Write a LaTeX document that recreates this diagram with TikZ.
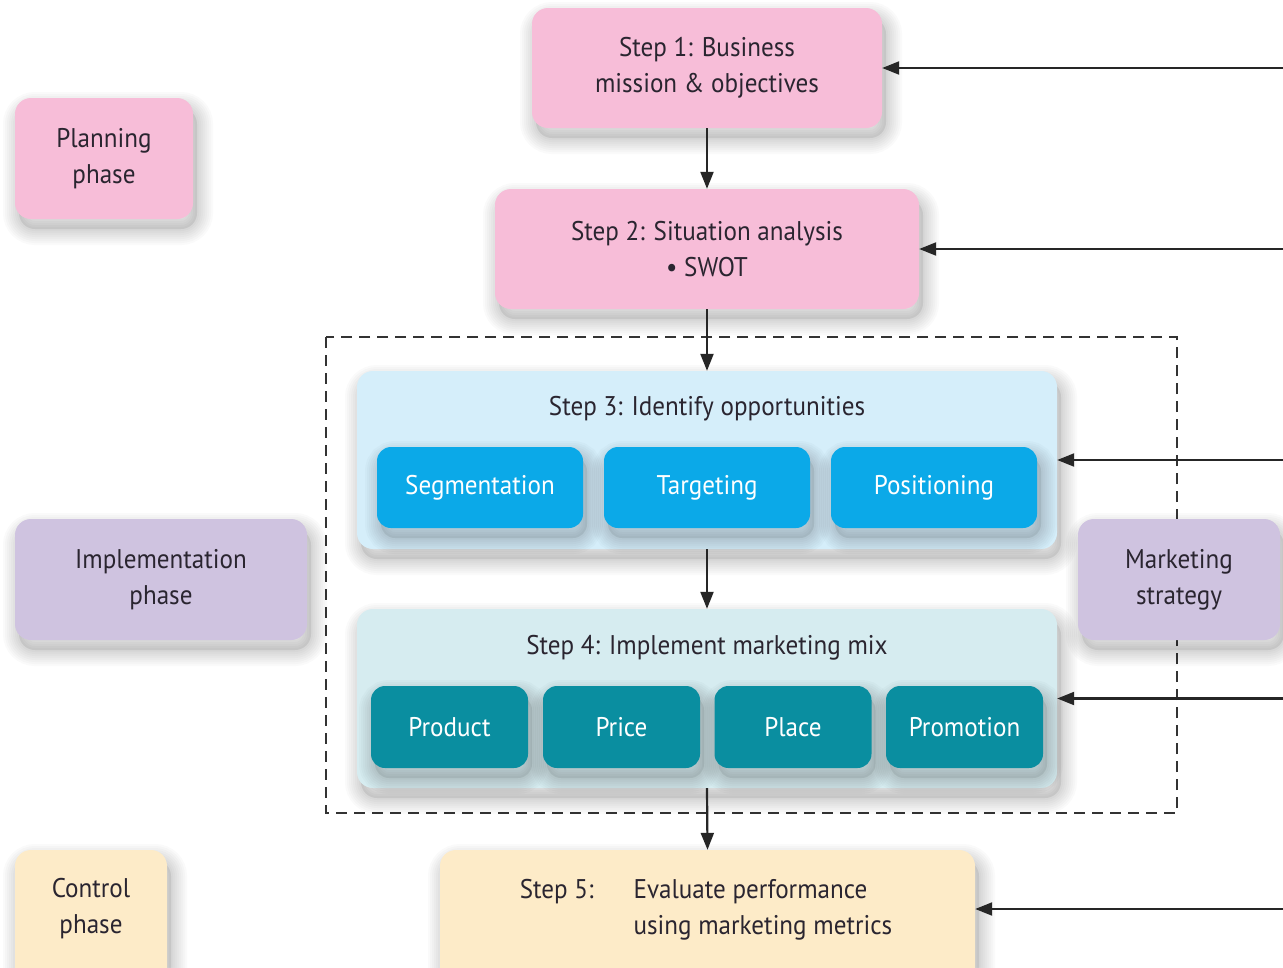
\documentclass[tikz,border=0pt]{standalone}
\usepackage{fontspec}
\setmainfont{PT Sans}[FakeStretch=0.93]
\usetikzlibrary{arrows.meta}
\definecolor{pinkc}{HTML}{F7BDD8}
\definecolor{lavc}{HTML}{CFC3E0}
\definecolor{creamc}{HTML}{FDEBC8}
\definecolor{lblue}{HTML}{D5EEFA}
\definecolor{bblue}{HTML}{0BA9E8}
\definecolor{lteal}{HTML}{D6ECF0}
\definecolor{dteal}{HTML}{0A8EA0}
\definecolor{txtc}{HTML}{2A2530}
\tikzset{
  sh/.style={preaction={draw=black, line width=#1, draw opacity=0.018, transform canvas={xshift=4pt,yshift=-10pt}}},
  shad/.style={sh=32pt, sh=28pt, sh=24pt, sh=20pt, sh=16pt, sh=12pt, sh=8pt, sh=4pt,
    preaction={fill=black, fill opacity=0.08, transform canvas={xshift=4pt,yshift=-10pt}}},
  box/.style={rounded corners=16pt, inner sep=0pt, align=center, text=txtc, shad,
    font=\fontsize{27}{36}\selectfont},
  inbox/.style={box, text=white, rounded corners=14pt},
  lbl/.style={inner sep=0pt, align=center, text=txtc, font=\fontsize{27}{36}\selectfont},
  arr/.style={line width=2.2pt, draw=black!85, -{Triangle[length=17pt,width=13pt]}},
  dashbox/.style={line width=2pt, draw=black!80, dash pattern=on 11pt off 7pt}
}
\begin{document}
\begin{tikzpicture}[x=1pt,y=-1pt]
\useasboundingbox (0,0) rectangle (1283,967);
\fill[white] (0,0) rectangle (1283,967);
\coordinate (redge) at (1283,0);
% dashed strategy frame
\draw[dashbox] (326,337) rectangle (1177,813);
% phases
\node[box, fill=pinkc, minimum width=178pt, minimum height=121pt] (plan) at (104,158.5) {Planning\\phase};
\node[box, fill=lavc, minimum width=292pt, minimum height=121pt] (impl) at (161,579.5) {Implementation\\phase};
\node[box, fill=lavc, minimum width=202pt, minimum height=121pt] (mkt) at (1179,579.5) {Marketing\\strategy};
\node[box, fill=creamc, minimum width=152pt, minimum height=150pt] (ctrl) at (91,925) {};
\node[lbl] (ctrlt) at (91,909) {Control\\phase};
% steps
\node[box, fill=pinkc, minimum width=350pt, minimum height=120pt] (s1) at (707,68) {Step 1: Business\\mission \& objectives};
\node[box, fill=pinkc, minimum width=424pt, minimum height=120pt] (s2) at (707,249) {Step 2: Situation analysis\\\textbullet\ SWOT};
\node[box, fill=lblue, minimum width=700pt, minimum height=178pt] (s3) at (707,460) {};
\node[lbl] (s3t) at (707,409) {Step 3: Identify opportunities};
\node[inbox, fill=bblue, minimum width=206pt, minimum height=81pt] (seg) at (480,487.5) {Segmentation};
\node[inbox, fill=bblue, minimum width=206pt, minimum height=81pt] (tar) at (707,487.5) {Targeting};
\node[inbox, fill=bblue, minimum width=206pt, minimum height=81pt] (pos) at (934,487.5) {Positioning};
\node[box, fill=lteal, minimum width=700pt, minimum height=179pt] (s4) at (707,698.5) {};
\node[lbl] (s4t) at (707,648) {Step 4: Implement marketing mix};
\node[inbox, fill=dteal, minimum width=157pt, minimum height=82pt] (prod) at (449.5,727) {Product};
\node[inbox, fill=dteal, minimum width=157pt, minimum height=82pt] (price) at (621.5,727) {Price};
\node[inbox, fill=dteal, minimum width=157pt, minimum height=82pt] (place) at (793,727) {Place};
\node[inbox, fill=dteal, minimum width=157pt, minimum height=82pt] (promo) at (964.5,727) {Promotion};
\node[box, fill=creamc, minimum width=535pt, minimum height=150pt] (s5) at (707.5,925) {};
\node[lbl, align=left] (s5t) at (706,909) {\begin{tabular}{@{}l@{\hspace{40pt}}l@{}}Step 5: & Evaluate performance\\ & using marketing metrics\end{tabular}};
% vertical flow
\draw[arr] (s1.south) -- (s2.north);
\draw[arr] (s2.south) -- (s3.north);
\draw[arr] (s3.south) -- (s4.north);
\draw[arr] (s4.south) -- (s5.north);
% feedback arrows from right
\draw[arr] (s1.east -| redge) -- (s1.east);
\draw[arr] (s2.east -| redge) -- (s2.east);
\draw[arr] (s3.east -| redge) -- (s3.east);
\draw[arr] (s4.east -| redge) -- (s4.east);
\draw[arr] (s5t -| redge) -- (s5t -| s5.east);
\end{tikzpicture}
\end{document}
